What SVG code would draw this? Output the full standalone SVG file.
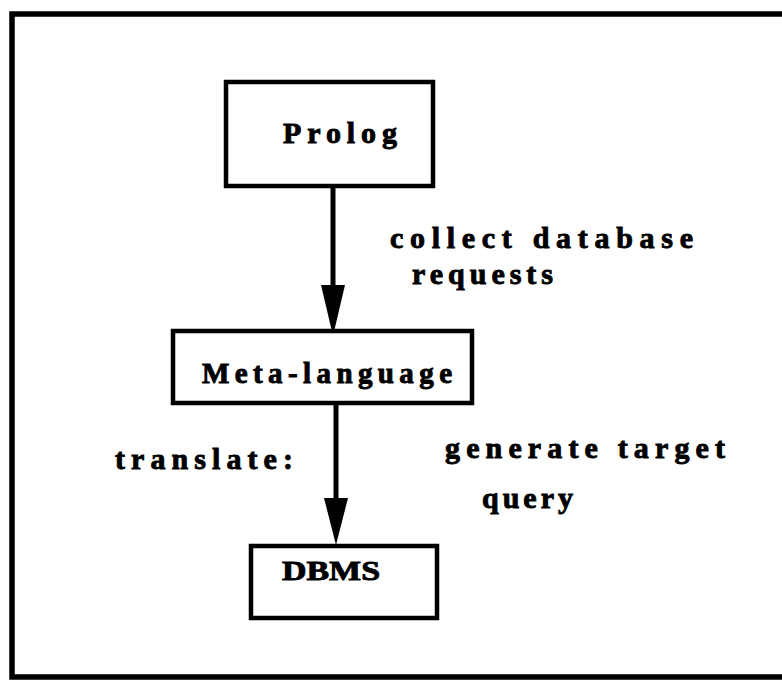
<svg xmlns="http://www.w3.org/2000/svg" width="782" height="680" viewBox="0 0 782 680">
<style>
.box{fill:#fff;stroke:#000;stroke-width:4.5}
.t{font-family:"Liberation Serif","Times New Roman",serif;font-weight:bold;fill:#000;stroke:#000;stroke-width:0.9}
.edge{stroke:#000;stroke-width:5;fill:none}
</style>
<rect width="782" height="680" fill="#fff"/>
<path d="M790,14 L12,14 L12,677 L790,677" fill="none" stroke="#000" stroke-width="5.5"/>
<g id="connectors">
<path class="edge" d="M333,187 V286"/>
<path d="M321,285 L345,285 L333,336 Z" fill="#000"/>
<path class="edge" d="M336,404 V500"/>
<path d="M324,498 L348,498 L336,545 Z" fill="#000"/>
</g>
<g id="prolog">
<rect class="box" x="226" y="82" width="207" height="104"/>
<text class="t" x="283" y="143" font-size="30" textLength="114" lengthAdjust="spacing">Prolog</text>
</g>
<g id="meta">
<rect class="box" x="173" y="331" width="299" height="72"/>
<text class="t" x="202" y="383" font-size="29" textLength="250" lengthAdjust="spacing">Meta-language</text>
</g>
<g id="dbms">
<rect class="box" x="251" y="546" width="186" height="72"/>
<text class="t" x="282" y="580" font-size="28" textLength="98" lengthAdjust="spacingAndGlyphs">DBMS</text>
</g>
<g id="labels">
<text class="t" x="390" y="248" font-size="30" textLength="303" lengthAdjust="spacing">collect database</text>
<text class="t" x="412" y="284" font-size="30" textLength="141" lengthAdjust="spacing">requests</text>
<text class="t" x="115" y="469" font-size="30" textLength="178" lengthAdjust="spacing">translate:</text>
<text class="t" x="445" y="458" font-size="30" textLength="280" lengthAdjust="spacing">generate target</text>
<text class="t" x="482" y="508" font-size="30" textLength="91" lengthAdjust="spacing">query</text>
</g>
</svg>
